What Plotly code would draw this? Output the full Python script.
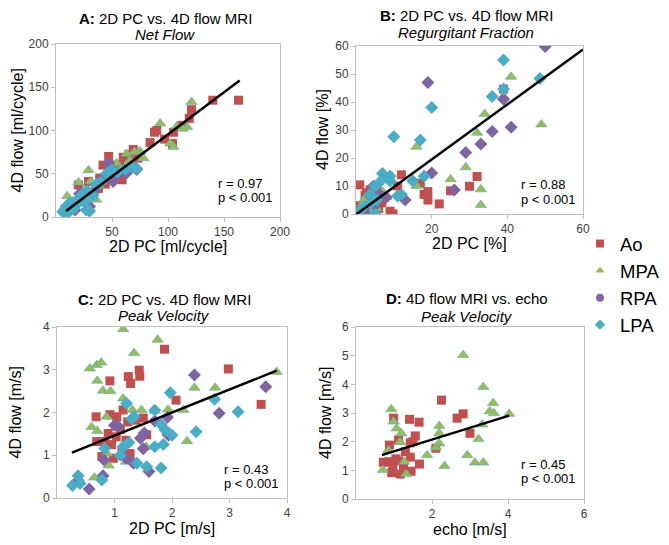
import plotly.graph_objects as go

W, H = 669, 545

# ---------------- data ----------------
series_names = ["Ao", "MPA", "RPA", "LPA"]
series_colors = ["#C0504D", "#9BBB59", "#8064A2", "#4BACC6"]

# Panel A: Net flow [ml/cycle]
A_Ao_x = [163, 140, 121, 119, 113, 105, 97, 90, 88, 84, 104, 69, 73, 65, 60, 57, 49, 47, 42, 59, 39, 38, 29, 20, 21, 54, 68, 44]
A_Ao_y = [135, 135, 124, 114, 106, 98, 90, 100, 98, 86, 85, 78, 68, 72, 69, 60, 60, 70, 60, 43, 45, 33, 41, 37, 20, 54, 62, 38]
A_MPA_x = [121, 93, 117, 113, 102, 105, 63, 75, 78, 29, 54, 20, 10, 48, 35, 36, 38, 108, 70, 45, 25, 15, 58, 66, 31, 32]
A_MPA_y = [133, 108, 104, 102, 85, 81, 73, 76, 68, 54, 62, 40, 24, 47, 35, 20, 36, 105, 75, 50, 30, 18, 55, 65, 41, 22]
A_RPA_x = [47, 51, 63, 21, 30, 17, 40, 55, 72, 35, 25, 60]
A_RPA_y = [62, 41, 51, 27, 12, 8, 42, 50, 55, 30, 18, 52]
A_LPA_x = [6, 9, 19, 24, 28, 33, 27, 45, 49, 72, 68, 36, 10, 14, 30, 12, 16, 22, 8, 40, 55, 62, 18, 26]
A_LPA_y = [6, 12, 20, 27, 30, 25, 8, 50, 54, 56, 58, 38, 4, 12, 7, 16, 10, 22, 9, 40, 52, 55, 14, 18]

# Panel B: Regurgitant fraction [%]
B_Ao_x = [39, 32, 30, 25, 22, 19, 18, 19, 17, 12, 11, 1, 9, 9.8, 3.7, 2.4, 5.5, 6.8, 7.5, 2.8, 4.2, 6, 0.5, 3]
B_Ao_y = [44.6, 13.4, 9.9, 8.3, 3.6, 8, 7, 5, 11, 14, 10, 10.4, 1, 0, 8.6, 6.7, 8, 4, 6, 7.5, 8.6, 2, 3, 4]
B_MPA_x = [41, 39, 34, 49, 32, 16, 29, 25, 33, 33, 16, 6.3, 2, 1.5, 3.7, 0.5, 1, 4.6, 5.5, 8, 7, 3]
B_MPA_y = [49, 42, 35.7, 32, 29, 24, 16.7, 12.4, 8.8, 3.2, 10, 6.6, 5, 3, 3.5, 0.5, 0, 0, 2, 6, 8, 1.5]
B_RPA_x = [50, 19, 39, 41, 36, 33, 29, 20, 26, 13, 2.6, 4.5, 5, 2.8, 6.3, 1, 8]
B_RPA_y = [59.8, 47, 41, 31, 29.5, 25, 22, 14.6, 8.6, 5, 2.6, 9.8, 3, 0, 7, 1, 6]
B_LPA_x = [39, 48.6, 39, 36, 20, 10, 17, 18, 15, 12, 11, 9, 7, 9, 6.7, 5, 5.5, 5, 0, 2, 3.7, 1, 4]
B_LPA_y = [55, 48.4, 44.6, 42, 38, 27.6, 26.4, 13.5, 11.8, 7, 6.4, 13.6, 14.5, 11.8, 12, 10, 5, 0, 0, 2.5, 7, 1, 4]

# Panel C: Peak velocity 2D PC vs 4D flow [m/s]
C_Ao_x = [1.87, 0.92, 1.24, 1.28, 1.43, 1.44, 2.07, 0.68, 0.92, 1.04, 1.15, 1.23, 1.37, 1.5, 0.89, 0.69, 0.83, 1.03, 0.78, 0.98, 1.13, 1.27, 2.98, 3.55, 1.56, 1.1, 1.2, 0.95]
C_Ao_y = [3.48, 2.74, 2.84, 2.68, 2.99, 2.85, 2.29, 1.90, 1.95, 1.90, 2.06, 1.78, 1.82, 1.87, 1.51, 1.32, 1.32, 1.43, 0.97, 0.93, 1.12, 1.04, 3.02, 2.19, 1.48, 1.6, 1.35, 1.25]
C_MPA_x = [1.15, 1.75, 1.34, 0.57, 0.69, 0.77, 0.7, 0.8, 0.93, 1.15, 1.47, 1.31, 1.7, 1.93, 0.86, 0.6, 0.7, 0.9, 0.65, 0.87, 2.39, 2.75, 3.82, 2.26, 1.95, 1.55, 1.2, 2.2]
C_MPA_y = [3.95, 3.70, 3.39, 3.03, 3.11, 3.17, 2.74, 2.51, 2.5, 2.33, 2.06, 2.06, 2.04, 2.07, 1.90, 1.66, 1.57, 0.76, 0.48, 1.04, 2.58, 2.58, 2.95, 1.33, 1.55, 1.2, 0.85, 2.06]
C_RPA_x = [2.39, 3.63, 2.82, 1.92, 1.93, 1.0, 1.94, 1.7, 1.52, 1.5, 1.6, 0.82, 1.06, 1.33, 0.8, 0.56, 0.37, 1.2, 1.45]
C_RPA_y = [2.88, 2.6, 1.98, 1.89, 1.5, 1.7, 1.47, 1.8, 1.52, 1.15, 0.62, 0.89, 1.68, 0.81, 0.52, 0.21, 0.41, 0.93, 1.4]
C_LPA_x = [1.97, 1.21, 1.34, 1.7, 1.81, 1.88, 2.0, 1.85, 1.7, 0.83, 1.1, 1.39, 1.56, 1.81, 1.15, 0.37, 0.4, 0.27, 0.78, 2.74, 3.15, 2.42, 1.3, 1.25]
C_LPA_y = [2.46, 2.21, 1.90, 2.05, 1.72, 1.59, 1.47, 1.25, 1.2, 1.16, 1.0, 0.81, 0.73, 0.7, 1.2, 0.52, 0.34, 0.29, 0.42, 2.31, 2.02, 1.55, 1.85, 1.3]

# Panel D: Peak velocity echo vs 4D flow [m/s]
D_Ao_x = [2.25, 2.82, 2.66, 3.0, 1.41, 1.66, 0.99, 0.88, 1.12, 1.56, 1.43, 2.1, 0.72, 0.97, 1.12, 1.43, 1.67, 1.45, 0.94, 1.16, 1.30, 0.85, 1.05, 1.25, 1.5]
D_Ao_y = [3.45, 2.97, 2.82, 2.29, 2.78, 2.68, 2.82, 1.88, 2.06, 2.2, 1.96, 1.77, 1.28, 1.16, 1.33, 1.46, 1.22, 0.97, 0.92, 0.87, 1.65, 1.3, 1.4, 1.1, 2.0]
D_MPA_x = [2.82, 3.35, 3.61, 3.52, 3.63, 4.03, 3.32, 3.22, 3.13, 3.35, 2.93, 2.33, 2.19, 2.19, 2.19, 1.87, 0.93, 0.99, 1.07, 1.19, 1.16, 0.71, 1.32, 1.27, 2.1, 0.85]
D_MPA_y = [5.02, 3.91, 3.35, 3.06, 2.99, 2.97, 2.6, 2.09, 1.27, 1.27, 1.53, 1.15, 2.55, 2.29, 1.94, 1.53, 3.13, 2.7, 2.46, 2.29, 1.99, 1.01, 0.87, 1.3, 1.8, 1.7]

# regression lines: slope, intercept, x-span
trend_A = (0.974, -1.8, 9, 164)
trend_B = (0.983, -0.2, 0, 60)
trend_C = (0.539, 0.92, 0.26, 3.82)
trend_D = (0.412, 1.25, 0.68, 4.03)

r_texts = ["r = 0.97", "r = 0.88", "r = 0.43", "r = 0.45"]
p_texts = ["p < 0.001", "p < 0.001", "p < 0.001", "p < 0.001"]
titles = ["<b>A:</b> 2D PC vs. 4D flow MRI", "<b>B:</b> 2D PC vs. 4D flow MRI",
          "<b>C:</b> 2D PC vs. 4D flow MRI", "<b>D:</b> 4D flow MRI vs. echo"]
subtitles = ["Net Flow", "Regurgitant Fraction", "Peak Velocity", "Peak Velocity"]
xtitles = ["2D PC [ml/cycle]", "2D PC [%]", "2D PC [m/s]", "echo [m/s]"]
ytitles = ["4D flow [ml/cycle]", "4D flow [%]", "4D flow [m/s]", "4D flow [m/s]"]
x_ticks = [[50, 100, 150, 200], [20, 40, 60], [1, 2, 3, 4], [2, 4, 6]]
y_ticks = [[0, 50, 100, 150, 200], [0, 10, 20, 30, 40, 50, 60], [0, 1, 2, 3, 4], [0, 1, 2, 3, 4, 5, 6]]
x_ranges = [[0, 200], [0, 60], [0, 4], [0, 6]]
y_ranges = [[0, 200], [0, 60], [0, 4], [0, 6]]

# ---------------- layout geometry (pixels) ----------------
boxes = [(56, 280, 44, 217), (356, 583, 46, 214), (57, 287, 327, 498), (356, 584, 327, 499)]
title_pos = [(165, 18, 34), (466, 15, 32), (164, 299, 315), (467, 298, 316)]
ytitle_x = [17, 322, 15, 325]
xtitle_dy = [29, 29, 30, 30]
stat_pos = [(216, 183), (519, 185), (222, 469), (519, 464)]

def px(x):
    return x / W

def py(y):
    return 1 - y / H

symbols = ["square", "triangle-up", "diamond", "diamond"]
sizes = [9, 10, 10, 10]

panels = [
    [(A_Ao_x, A_Ao_y), (A_MPA_x, A_MPA_y), (A_RPA_x, A_RPA_y), (A_LPA_x, A_LPA_y)],
    [(B_Ao_x, B_Ao_y), (B_MPA_x, B_MPA_y), (B_RPA_x, B_RPA_y), (B_LPA_x, B_LPA_y)],
    [(C_Ao_x, C_Ao_y), (C_MPA_x, C_MPA_y), (C_RPA_x, C_RPA_y), (C_LPA_x, C_LPA_y)],
    [(D_Ao_x, D_Ao_y), (D_MPA_x, D_MPA_y)],
]
trends = [trend_A, trend_B, trend_C, trend_D]

fig = go.Figure()
FONT = "Liberation Sans, Arial, sans-serif"

for i, pdata in enumerate(panels):
    xa = "x" if i == 0 else f"x{i+1}"
    ya = "y" if i == 0 else f"y{i+1}"
    for k, (xs, ys) in enumerate(pdata):
        line = dict(width=0)
        if k == 1:
            line = dict(width=0.8, color="rgba(75,172,198,0.7)")
        fig.add_trace(go.Scatter(
            x=xs, y=ys, mode="markers", xaxis=xa, yaxis=ya, showlegend=False,
            marker=dict(symbol=symbols[k], size=sizes[k], color=series_colors[k], line=line),
            hoverinfo="skip"))
    s, b, x0, x1 = trends[i]
    fig.add_trace(go.Scatter(
        x=[x0, x1], y=[s * x0 + b, s * x1 + b], mode="lines", xaxis=xa, yaxis=ya,
        showlegend=False, line=dict(color="black", width=2.5), hoverinfo="skip"))

# legend entries
leg_symbols = ["square", "triangle-up", "circle", "diamond"]
for k, name in enumerate(series_names):
    fig.add_trace(go.Scatter(
        x=[None], y=[None], mode="markers", name=name, xaxis="x", yaxis="y",
        marker=dict(symbol=leg_symbols[k], size=8, color=series_colors[k])))

layout = dict(
    width=W, height=H, margin=dict(l=0, r=0, t=0, b=0, autoexpand=False),
    paper_bgcolor="white", plot_bgcolor="white",
    font=dict(family=FONT, color="black"),
    legend=dict(x=px(580), y=py(225), xanchor="left", yanchor="top",
                font=dict(size=18.5, family=FONT, color="black"),
                bgcolor="rgba(0,0,0,0)", itemwidth=30, tracegroupgap=0),
)
annotations = []
for i, (l, r, t, btm) in enumerate(boxes):
    sfx = "" if i == 0 else str(i + 1)
    axcommon = dict(showgrid=False, zeroline=False, showline=True, linecolor="#BFBFBF",
                    linewidth=1, mirror=True, ticks="outside", ticklen=4, tickcolor="#BFBFBF",
                    tickfont=dict(size=12, color="#404040", family=FONT))
    layout["xaxis" + sfx] = dict(domain=[px(l), px(r)], range=x_ranges[i], tickvals=x_ticks[i],
                                 anchor="y" + sfx, **axcommon)
    layout["yaxis" + sfx] = dict(domain=[py(btm), py(t)], range=y_ranges[i], tickvals=y_ticks[i],
                                 anchor="x" + sfx, **axcommon)
    cx, ty, sy = title_pos[i]
    annotations.append(dict(x=px(cx), y=py(ty), xref="paper", yref="paper", text=titles[i],
                            showarrow=False, font=dict(size=15, family=FONT), xanchor="center", yanchor="middle"))
    annotations.append(dict(x=px(cx), y=py(sy), xref="paper", yref="paper", text="<i>" + subtitles[i] + "</i>",
                            showarrow=False, font=dict(size=15, family=FONT), xanchor="center", yanchor="middle"))
    annotations.append(dict(x=px((l + r) / 2), y=py(btm + xtitle_dy[i]), xref="paper", yref="paper", text=xtitles[i],
                            showarrow=False, font=dict(size=16, family=FONT), xanchor="center", yanchor="middle"))
    annotations.append(dict(x=px(ytitle_x[i]), y=py((t + btm) / 2), xref="paper", yref="paper", text=ytitles[i],
                            showarrow=False, font=dict(size=16, family=FONT), textangle=-90,
                            xanchor="center", yanchor="middle"))
    sx, sy2 = stat_pos[i]
    annotations.append(dict(x=px(sx), y=py(sy2), xref="paper", yref="paper", text=r_texts[i],
                            showarrow=False, font=dict(size=13, family=FONT), xanchor="left", yanchor="middle"))
    annotations.append(dict(x=px(sx), y=py(sy2 + 14.5), xref="paper", yref="paper", text=p_texts[i],
                            showarrow=False, font=dict(size=13, family=FONT), xanchor="left", yanchor="middle"))
layout["annotations"] = annotations
fig.update_layout(**layout)
fig.write_html("out.html", config={"displayModeBar": False},
               post_script="document.body.style.margin='0';document.body.style.overflow='hidden';")
